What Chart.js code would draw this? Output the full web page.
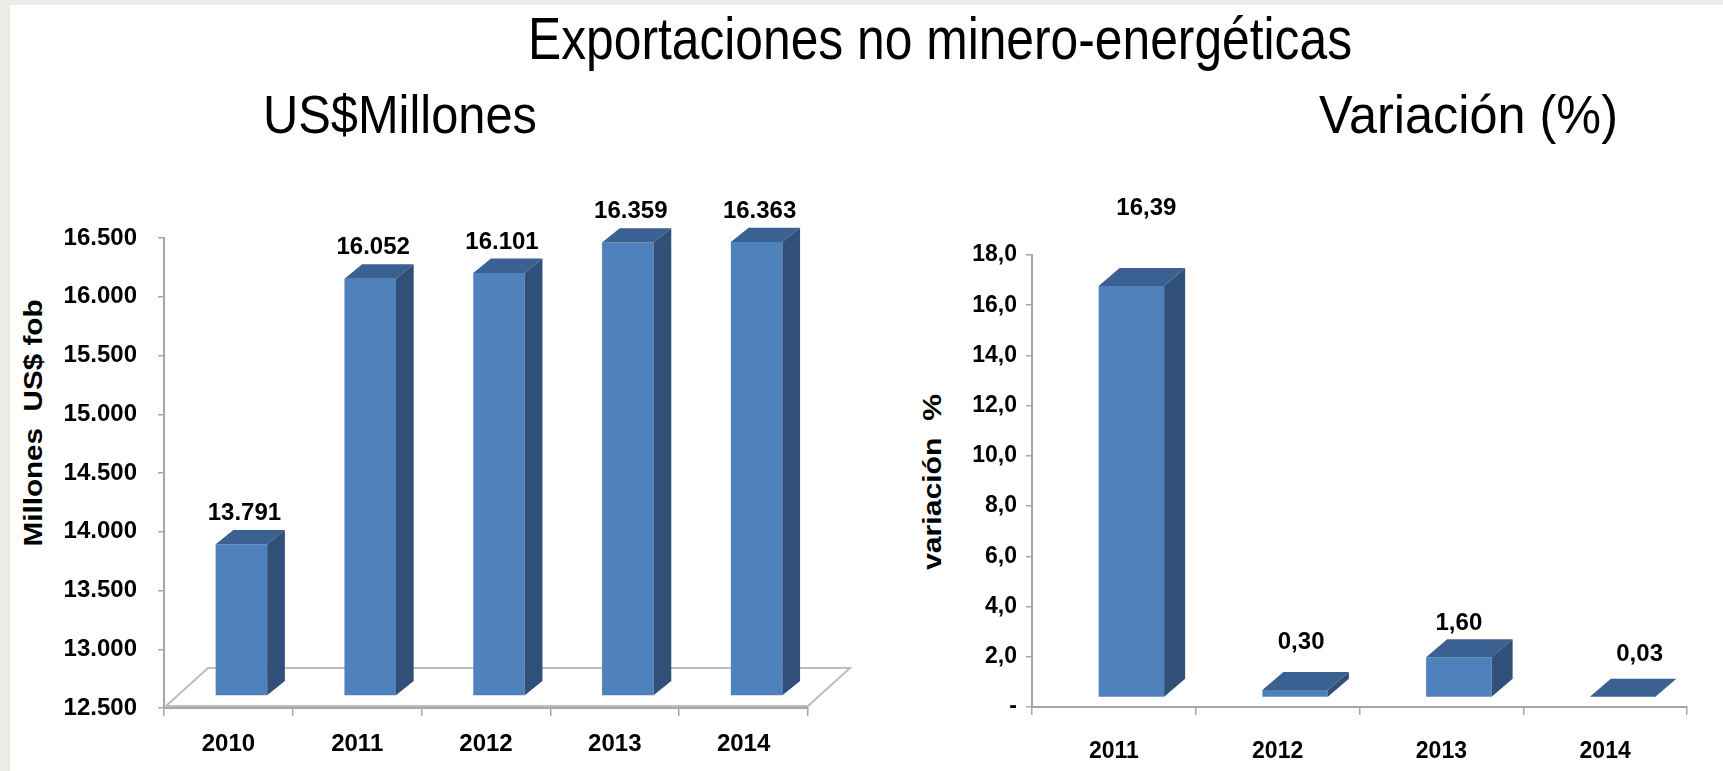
<!DOCTYPE html>
<html lang="es">
<head>
<meta charset="UTF-8">
<title>Exportaciones no minero-energéticas</title>
<script src="https://cdn.jsdelivr.net/npm/chart.js"></script>
<style>
    html, body { margin: 0; padding: 0; background: #fff; }
    body { width: 1723px; height: 771px; position: relative; overflow: hidden; font-family: 'Liberation Sans', Arial, sans-serif; }
    .frame-left { position: absolute; left: 0; top: 0; width: 10px; height: 771px; background: #ecebe7; }
    .frame-top { position: absolute; left: 0; top: 0; width: 1723px; height: 5px; background: #ecebe7; }
    .txt { position: absolute; white-space: pre; line-height: 1; color: #000; transform-origin: 0 0; }
    .axis-title { position: absolute; white-space: pre; line-height: 1; font-weight: bold; color: #000; }
    canvas { position: absolute; top: 0; }
</style>
</head>
<body>
<div class="frame-left"></div>
<div class="frame-top"></div>

<div class="txt" id="mainTitle" data-x="528" data-base="60" data-size="60" data-w="824">Exportaciones no minero-energéticas</div>
<div class="txt" id="subLeft" data-x="263" data-base="133.3" data-size="53.5" data-w="274">US$Millones</div>
<div class="txt" id="subRight" data-x="1319" data-base="133.3" data-size="53.5" data-w="299">Variación (%)</div>

<div class="axis-title" data-cx="33" data-cy="423" data-size="26" data-len="247">Millones  US$ fob</div>
<div class="axis-title" data-cx="932" data-cy="482" data-size="26" data-len="176">variación  %</div>

<canvas id="exportChart" width="860" height="771" style="left:0"></canvas>
<canvas id="variationChart" width="863" height="771" style="left:860px"></canvas>

<script>
    // Data
    const yearsExport = ['2010', '2011', '2012', '2013', '2014'];
    const exportValues = [13791, 16052, 16101, 16359, 16363];
    const exportMin = 12500, exportMax = 16500, exportStep = 500;

    const yearsVariation = ['2011', '2012', '2013', '2014'];
    const variationValues = [16.39, 0.30, 1.60, 0.03];
    const variationMin = 0, variationMax = 18, variationStep = 2;

    // helpers
    const measureCtx = document.createElement('canvas').getContext('2d');
    function textWidth(font, text) {
        measureCtx.font = font;
        return measureCtx.measureText(text).width;
    }
    function hasFont(name) {
        const probe = 'abcdefghijklmnopqrstuvwxyz0123456789';
        return textWidth('40px monospace', probe) !== textWidth('40px "' + name + '", monospace', probe);
    }
    const narrow = hasFont('Liberation Sans Narrow');
    const narrowFamily = narrow ? "'Liberation Sans Narrow', 'Liberation Sans', sans-serif" : "'Liberation Sans', sans-serif";
    const narrowScale = narrow ? 1 : 0.88;

    function fmtThousands(v) {
        return String(Math.round(v)).replace(/\B(?=(\d{3})+(?!\d))/g, '.');
    }
    function fmtComma(v, d) {
        return v.toFixed(d).replace('.', ',');
    }

    // titles (condensed like the original)
    document.querySelectorAll('.txt').forEach(el => {
        const size = +el.dataset.size;
        el.style.fontSize = size + 'px';
        el.style.left = el.dataset.x + 'px';
        el.style.top = (+el.dataset.base - 0.8465 * size) + 'px';
        const w = textWidth(size + "px 'Liberation Sans'", el.textContent);
        el.style.transform = 'scaleX(' + (+el.dataset.w / w) + ')';
    });
    document.querySelectorAll('.axis-title').forEach(el => {
        const size = +el.dataset.size;
        el.style.fontSize = size + 'px';
        el.style.left = el.dataset.cx + 'px';
        el.style.top = el.dataset.cy + 'px';
        const w = textWidth('bold ' + size + "px 'Liberation Sans'", el.textContent);
        el.style.transform = 'translate(-50%, -50%) rotate(-90deg) scaleX(' + (+el.dataset.len / w) + ')';
    });

    // fake 3D: shift the front faces, then add top and side faces + labels
    function makeBar3d(cfg) {
        return {
            id: 'bar3d',
            beforeDatasetsDraw(chart) {
                const ctx = chart.ctx;
                if (cfg.floor) {
                    const a = chart.chartArea;
                    const yb = chart.scales.y.getPixelForValue(chart.scales.y.min) - 2;
                    ctx.save();
                    ctx.beginPath();
                    ctx.moveTo(a.left + 2, yb);
                    ctx.lineTo(a.left + 2 + cfg.floor.dx, yb + cfg.floor.dy);
                    ctx.lineTo(a.right + cfg.floor.dx, yb + cfg.floor.dy);
                    ctx.lineTo(a.right, yb);
                    ctx.closePath();
                    ctx.fillStyle = '#fff';
                    ctx.fill();
                    ctx.strokeStyle = '#bdbdbd';
                    ctx.lineWidth = 2;
                    ctx.stroke();
                    ctx.restore();
                }
                ctx.save();
                ctx.translate(cfg.shiftX, cfg.shiftY);
            },
            afterDatasetsDraw(chart) {
                const ctx = chart.ctx;
                const meta = chart.getDatasetMeta(0);
                const values = chart.data.datasets[0].data;
                meta.data.forEach((bar, i) => {
                    const p = bar.getProps(['x', 'y', 'base', 'width'], true);
                    const l = p.x - p.width / 2, r = p.x + p.width / 2;
                    const top = Math.min(p.y, p.base), bot = Math.max(p.y, p.base);
                    ctx.fillStyle = cfg.topColor;
                    ctx.beginPath();
                    ctx.moveTo(l, top);
                    ctx.lineTo(l + cfg.dx, top + cfg.dy);
                    ctx.lineTo(r + cfg.dx, top + cfg.dy);
                    ctx.lineTo(r, top);
                    ctx.closePath();
                    ctx.fill();
                    ctx.fillStyle = cfg.sideColor;
                    ctx.beginPath();
                    ctx.moveTo(r, top);
                    ctx.lineTo(r + cfg.dx, top + cfg.dy);
                    ctx.lineTo(r + cfg.dx, bot + cfg.dy);
                    ctx.lineTo(r, bot);
                    ctx.closePath();
                    ctx.fill();
                    // value label
                    ctx.font = cfg.labelFont;
                    ctx.fillStyle = '#000';
                    ctx.textAlign = 'center';
                    ctx.textBaseline = 'middle';
                    ctx.fillText(cfg.format(values[i]), p.x + cfg.labelDX[i], top + cfg.labelDY[i]);
                });
                ctx.restore();
            }
        };
    }

    const axisGray = '#a6a6a6';

    // Left chart: US$ millones
    const leftFont = { family: "'Liberation Sans', sans-serif", size: 24, weight: 'bold' };
    new Chart(document.getElementById('exportChart'), {
        type: 'bar',
        data: {
            labels: yearsExport,
            datasets: [{
                data: exportValues,
                base: exportMin,
                backgroundColor: '#4f81bd',
                borderWidth: 0,
                barPercentage: 0.4,
                categoryPercentage: 1,
                clip: false
            }]
        },
        options: {
            responsive: false,
            animation: false,
            devicePixelRatio: 1,
            layout: { padding: { top: 238, right: 52, left: 0, bottom: 0 } },
            plugins: { legend: { display: false }, tooltip: { enabled: false } },
            scales: {
                x: {
                    grid: { offset: true, drawOnChartArea: false, tickLength: 8, color: axisGray, lineWidth: 1.5 },
                    border: { color: axisGray, width: 2 },
                    ticks: { font: leftFont, color: '#000', padding: 14 },
                    afterFit(s) { s.height = 63; }
                },
                y: {
                    min: exportMin,
                    max: exportMax,
                    grid: { drawOnChartArea: false, tickLength: 6, color: axisGray, lineWidth: 1.5 },
                    border: { color: axisGray, width: 2 },
                    ticks: { stepSize: exportStep, font: leftFont, color: '#000', padding: 21, callback: v => fmtThousands(v) },
                    afterFit(s) { s.width = 164; }
                }
            }
        },
        plugins: [makeBar3d({
            shiftX: 13, shiftY: -12,
            dx: 17.7, dy: -14.3,
            topColor: '#3b6192', sideColor: '#30507a',
            floor: { dx: 42, dy: -38 },
            labelFont: "bold 24px 'Liberation Sans', sans-serif",
            labelDX: [3, 3, 3, 3, 3],
            labelDY: [-31, -31, -31, -31, -31],
            format: fmtThousands
        })]
    });

    // Right chart: variación %
    const rightFont = { family: narrowFamily, size: Math.round(26 * narrowScale), weight: 'bold' };
    new Chart(document.getElementById('variationChart'), {
        type: 'bar',
        data: {
            labels: yearsVariation,
            datasets: [{
                data: variationValues,
                backgroundColor: '#4f81bd',
                borderWidth: 0,
                barPercentage: 0.4,
                categoryPercentage: 1,
                clip: false
            }]
        },
        options: {
            responsive: false,
            animation: false,
            devicePixelRatio: 1,
            layout: { padding: { top: 255, right: 36, left: 0, bottom: 0 } },
            plugins: { legend: { display: false }, tooltip: { enabled: false } },
            scales: {
                x: {
                    grid: { offset: true, drawOnChartArea: false, tickLength: 8, color: axisGray, lineWidth: 1.5 },
                    border: { color: axisGray, width: 2 },
                    ticks: { font: rightFont, color: '#000', padding: 23 },
                    afterFit(s) { s.height = 64; }
                },
                y: {
                    min: variationMin,
                    max: variationMax,
                    grid: { drawOnChartArea: false, tickLength: 6, color: axisGray, lineWidth: 1.5 },
                    border: { color: axisGray, width: 2 },
                    ticks: { stepSize: variationStep, font: rightFont, color: '#000', padding: 9,
                        callback: v => v === 0 ? '-' : fmtComma(v, 1) },
                    afterFit(s) { s.width = 172; }
                }
            }
        },
        plugins: [makeBar3d({
            shiftX: 17.5, shiftY: -9.5,
            dx: 21, dy: -18,
            topColor: '#3b6192', sideColor: '#30507a',
            labelFont: 'bold ' + Math.round(27 * narrowScale) + 'px ' + narrowFamily,
            labelDX: [15, 6, 0, 17],
            labelDY: [-78, -48, -34, -42],
            format: v => fmtComma(v, 2)
        })]
    });
</script>
</body>
</html>
